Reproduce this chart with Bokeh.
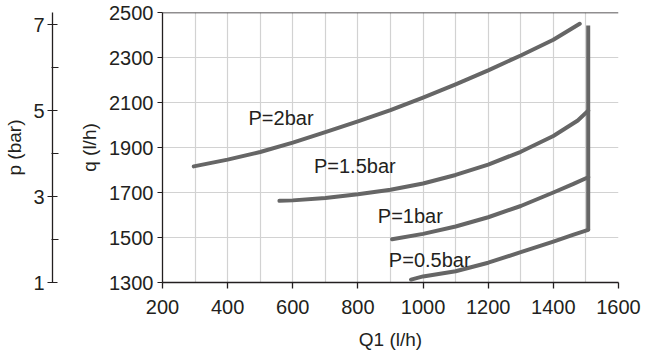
from bokeh.plotting import figure
from bokeh.models import (LinearAxis, Range1d, FixedTicker, Span, ColumnDataSource)
from bokeh.embed import file_html
from bokeh.resources import INLINE
from bokeh.core.properties import value

# ---- data ----
x_ticks = [200, 400, 600, 800, 1000, 1200, 1400, 1600]
x_grid = [200, 300, 400, 500, 600, 700, 800, 900, 1000, 1100, 1200, 1300, 1400, 1500, 1600]
q_ticks = [1300, 1500, 1700, 1900, 2100, 2300, 2500]
p_ticks = [1, 3, 5, 7]
p_minor = [2, 4, 6]
p_range = [1, 7.28]

x_2bar = [296, 400, 500, 600, 700, 800, 900, 1000, 1100, 1200, 1300, 1400, 1481]
q_2bar = [1816, 1846, 1880, 1922, 1968, 2016, 2066, 2122, 2181, 2243, 2309, 2379, 2450]

x_15bar = [559, 600, 700, 800, 900, 1000, 1100, 1200, 1300, 1400, 1475, 1507]
q_15bar = [1663, 1665, 1676, 1692, 1712, 1740, 1778, 1824, 1881, 1951, 2020, 2064]

x_1bar = [905, 1000, 1100, 1200, 1300, 1400, 1460, 1507]
q_1bar = [1492, 1516, 1549, 1590, 1640, 1700, 1737, 1768]

x_05bar = [963, 1000, 1100, 1200, 1300, 1400, 1460, 1507]
q_05bar = [1313, 1327, 1350, 1388, 1435, 1482, 1512, 1534]

x_limit = [1507, 1507]
q_limit = [1534, 2442]

label_text = ["P=2bar", "P=1.5bar", "P=1bar", "P=0.5bar"]
label_x = [464, 665, 861, 895]
label_q = [2031, 1816, 1596, 1398]

# ---- style ----
FONT = "Liberation Sans"
TXT = "#231f20"
LINE = "#666666"
GRID = "#d2d2d2"

p = figure(width=647, height=355, output_backend="svg", toolbar_location=None,
           x_range=Range1d(x_ticks[0], x_ticks[-1]),
           y_range=Range1d(q_ticks[0], q_ticks[-1]),
           min_border_left=162, min_border_right=29,
           min_border_top=12, min_border_bottom=73)
p.outline_line_color = None
p.background_fill_color = "white"
p.border_fill_color = "white"

# grids
p.xgrid.ticker = FixedTicker(ticks=x_grid)
p.ygrid.ticker = FixedTicker(ticks=q_ticks)
for g in (p.xgrid[0], p.ygrid[0]):
    g.grid_line_color = GRID
    g.grid_line_width = 1.2

# x axis
xa = p.xaxis[0]
xa.ticker = FixedTicker(ticks=x_ticks)
xa.axis_label = "Q1 (l/h)"
xa.axis_line_color = TXT
xa.axis_line_width = 1.3
xa.major_tick_line_color = TXT
xa.major_tick_line_width = 1.3
xa.major_tick_in = 0
xa.major_tick_out = 6
xa.minor_tick_line_color = None
xa.major_label_standoff = 11
xa.axis_label_standoff = 12
xa.major_label_text_font = FONT
xa.major_label_text_font_size = "20px"
xa.major_label_text_color = TXT
xa.axis_label_text_font = FONT
xa.axis_label_text_font_size = "19px"
xa.axis_label_text_font_style = "normal"
xa.axis_label_text_color = TXT

# q axis (inner left)
qa = p.yaxis[0]
qa.ticker = FixedTicker(ticks=q_ticks)
qa.axis_label = "\u00a0\nq (l/h)"
qa.axis_line_color = TXT
qa.axis_line_width = 1.3
qa.major_tick_line_color = TXT
qa.major_tick_line_width = 1.0
qa.major_tick_in = 0
qa.major_tick_out = 5
qa.minor_tick_line_color = None
qa.major_label_standoff = 4
qa.axis_label_standoff = 6
qa.major_label_text_font = FONT
qa.major_label_text_font_size = "20px"
qa.major_label_text_color = TXT
qa.axis_label_text_font = FONT
qa.axis_label_text_font_size = "19px"
qa.axis_label_text_font_style = "normal"
qa.axis_label_text_line_height = 1.1
qa.axis_label_text_color = TXT

# p axis (outer left)
p.extra_y_ranges = {"p": Range1d(p_range[0], p_range[1])}
pa = LinearAxis(y_range_name="p", ticker=FixedTicker(ticks=p_ticks, minor_ticks=p_minor),
                axis_label="p (bar)")
pa.axis_line_color = TXT
pa.axis_line_width = 1.3
pa.major_tick_line_color = TXT
pa.major_tick_in = 5
pa.major_tick_out = 5
pa.minor_tick_line_color = TXT
pa.minor_tick_in = 6
pa.minor_tick_out = 1
pa.major_label_standoff = 3
pa.axis_label_standoff = 5
pa.major_label_text_font = FONT
pa.major_label_text_font_size = "20px"
pa.major_label_text_color = TXT
pa.axis_label_text_font = FONT
pa.axis_label_text_font_size = "19px"
pa.axis_label_text_font_style = "normal"
pa.axis_label_text_color = TXT
p.add_layout(pa, "left")

# top border
p.add_layout(Span(location=q_ticks[-1], dimension="width", line_color=TXT, line_width=1.5))

# curves
for xs, qs in [(x_2bar, q_2bar), (x_15bar, q_15bar), (x_1bar, q_1bar), (x_05bar, q_05bar)]:
    p.line(xs, qs, line_color=LINE, line_width=4, line_cap="round", line_join="round")
p.line(x_limit, q_limit, line_color=LINE, line_width=4, line_cap="butt")

src = ColumnDataSource(dict(x=label_x, y=label_q, t=label_text))
p.text(x="x", y="y", text="t", source=src, text_font=value(FONT), text_font_size="20px",
       text_color=TXT, text_align="left", text_baseline="middle")

open("out.html", "w").write(file_html(p, INLINE))
